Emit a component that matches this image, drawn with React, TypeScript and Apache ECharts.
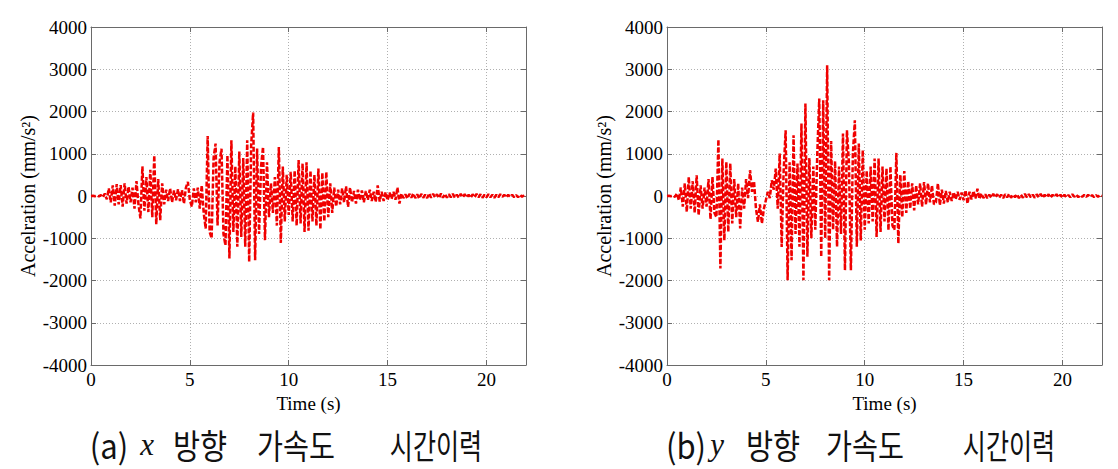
import React, { useEffect, useRef } from 'react';
import * as echarts from 'echarts';

// sampling step of the digitised records (s)
const DT = 0.1;
const T_MAX = 22;
const X_TICK_STEP = 5;
const Y_MIN = -4000;
const Y_MAX = 4000;
const Y_TICK_STEP = 1000;

const X_NAME = 'Time (s)';
const Y_NAME = 'Accelration (mm/s²)';

// x-direction acceleration (mm/s^2), one value per DT from t = 0
const ACC_X: number[] = [
  0, 5, -5, 10, -10, 20, -30, 60, -80, 180,
  -150, 250, -230, 280, -200, 260, -250, 300, -180, 220,
  -150, 200, -300, 350, -200, -530, 700, -350, 450, -380,
  620, -500, 960, -670, 400, -570, 300, -200, 150, -120,
  180, -150, 130, -100, 160, -120, 140, -180, 200, 335,
  -100, -250, 180, -150, 200, -300, 250, -400, -770, 1420,
  -850, -1000, 900, 1240, -700, 800, 1120, -900, -1165, 965,
  -1480, 1320, -850, 700, -1200, 1050, -970, 900, -1200, 1320,
  -1560, 1200, 1975, -1520, 1125, -900, 700, 1160, -1045, 800,
  -500, 300, -400, 450, -700, 1160, -1110, 700, -600, 500,
  -450, 570, -600, 600, -700, 850, -650, 770, -850, 800,
  -820, 600, -600, 500, -700, 650, -790, 550, -600, 570,
  -500, 300, -400, 200, -250, 150, -200, 180, -150, 230,
  -257, 200, -150, 120, -180, 150, -100, 130, -150, 120,
  -90, 150, -120, 100, -140, 250, -130, 100, -120, 90,
  -100, 80, -70, 100, -90, 200, -180, 60, -50, 40,
  -60, 50, -40, 60, -50, 40, -60, 50, -40, 30,
  -50, 60, -40, 50, -30, 40, -50, 60, -40, 50,
  -40, 40, -30, 50, -40, 30, -40, 50, -30, 40,
  -30, 30, -40, 40, -30, 50, -30, 40, -40, 30,
  -30, 40, -30, 30, -40, 30, -30, 40, -20, 30,
  -30, 30, -20, 30, -30, 20, -30, 30, -20, 20,
  0,
];

// y-direction acceleration (mm/s^2), one value per DT from t = 0
const ACC_Y: number[] = [
  0, 5, -5, 10, -20, 60, -100, 200, -250, 300,
  -376, 452, -300, 350, -400, 492, -457, 250, -300, 200,
  -250, 400, -550, 450, -400, -500, 1337, -1716, 887, -1050,
  808, -850, 770, -650, 400, -500, 300, -770, 200, -300,
  400, -50, 610, 100, 350, -300, -613, -200, -650, -300,
  -100, 100, -50, 374, 150, 650, -300, 1005, -1205, 600,
  1557, -1993, 800, -1520, 1440, -900, 768, -1200, 1716, -1993,
  2189, -1440, 900, -1000, 700, -800, 1000, 2307, -1441, 2268,
  -1000, 3095, -1993, 1300, -800, 825, -1200, 700, -900, 1479,
  -1756, 1557, 800, -1756, 1000, 1794, -1200, 1240, -1050, 1085,
  -800, 600, -650, 700, -600, 887, -967, 887, -850, 700,
  -600, 650, -810, 700, -700, -800, 1020, -1124, 500, -500,
  590, -400, 350, -300, 300, -340, 250, -200, 300, -250,
  330, -200, 300, -150, 250, -200, -150, 300, -220, 150,
  -180, 120, -150, 100, -120, 90, -80, 100, -90, 80,
  -100, 135, -180, 100, -80, 120, -60, 170, -70, 60,
  -50, 40, -50, 30, -40, 50, -30, 40, -40, 30,
  -50, 40, -30, 50, -40, 30, -30, 40, -50, 30,
  -40, 50, -30, 40, -30, 30, -40, 40, -30, 50,
  -40, 30, -30, 40, -40, 30, -20, 40, -30, 30,
  -40, 30, -30, 20, -30, 40, -20, 30, -30, 20,
  -20, 30, -20, 30, -20, 20, -30, 20, -20, 20,
  0,
];

// caption words: [left plot, right plot]
const CAPTION_A = ['(a)', 'x', '방향', '가속도', '시간이력'];
const CAPTION_B = ['(b)', 'y', '방향', '가속도', '시간이력'];

const SERIF = 'Liberation Serif';
const KR = 'Noto Sans CJK KR';
const AXIS_COLOR = '#6a6a6a';

function toPairs(vals: number[]) {
  return vals.map((v, i) => [Math.round(i * DT * 10) / 10, v]);
}

const tickRich = { t: { fontFamily: SERIF, fontSize: 19, color: '#000' } };

function axesFor(g: number) {
  const xBottom = {
    type: 'value', gridIndex: g, position: 'bottom', min: 0, max: T_MAX, interval: X_TICK_STEP,
    name: X_NAME, nameLocation: 'middle', nameGap: 20,
    nameTextStyle: { fontFamily: SERIF, fontSize: 19, color: '#000' },
    axisLine: { show: true, onZero: false, lineStyle: { color: AXIS_COLOR, width: 1 } },
    axisTick: { show: true, inside: true, length: 5, lineStyle: { color: AXIS_COLOR } },
    axisLabel: {
      show: true, margin: 5, fontFamily: SERIF, fontSize: 19, color: '#000', showMaxLabel: false,
      formatter: (v: number) => (v % X_TICK_STEP === 0 ? `{t|${v}}` : ''),
      rich: tickRich,
    },
    splitLine: { show: true, lineStyle: { color: '#b0b0b0', type: [1, 2], width: 1 } },
  };
  const xTop = {
    type: 'value', gridIndex: g, position: 'top', min: 0, max: T_MAX, interval: X_TICK_STEP,
    axisLine: { show: true, onZero: false, lineStyle: { color: AXIS_COLOR, width: 1 } },
    axisTick: { show: true, inside: true, length: 5, lineStyle: { color: AXIS_COLOR } },
    axisLabel: { show: false },
    splitLine: { show: false },
  };
  const yLeft = {
    type: 'value', gridIndex: g, position: 'left', min: Y_MIN, max: Y_MAX, interval: Y_TICK_STEP,
    name: Y_NAME, nameLocation: 'middle', nameGap: 53, nameRotate: 90,
    nameTextStyle: { fontFamily: SERIF, fontSize: 20, color: '#000' },
    axisLine: { show: true, onZero: false, lineStyle: { color: AXIS_COLOR, width: 1 } },
    axisTick: { show: true, inside: true, length: 5, lineStyle: { color: AXIS_COLOR } },
    axisLabel: {
      show: true, margin: 4, fontFamily: SERIF, fontSize: 19, color: '#000',
      formatter: (v: number) => `{t|${v}}`,
      rich: tickRich,
    },
    splitLine: { show: true, lineStyle: { color: '#b0b0b0', type: [1, 2], width: 1 } },
  };
  const yRight = {
    type: 'value', gridIndex: g, position: 'right', min: Y_MIN, max: Y_MAX, interval: Y_TICK_STEP,
    axisLine: { show: true, onZero: false, lineStyle: { color: AXIS_COLOR, width: 1 } },
    axisTick: { show: true, inside: true, length: 5, lineStyle: { color: AXIS_COLOR } },
    axisLabel: { show: false },
    splitLine: { show: false },
  };
  return { x: [xBottom, xTop], y: [yLeft, yRight] };
}

// per-word horizontal squeeze to imitate the narrower hangul of the original caption font
const WORD_SCALE = [1, 1, 0.95, 0.91, 0.81];

function captionGraphics(words: string[], centers: number[], y: number) {
  return words.map((w, i) => ({
    type: 'text',
    x: centers[i],
    y,
    scaleX: WORD_SCALE[i],
    scaleY: i === 1 ? 1 : 1.1,
    style: {
      text: w,
      fontFamily: i === 1 ? SERIF : KR,
      fontStyle: i === 1 ? 'italic' : 'normal',
      fontSize: 31,
      fill: '#111',
      align: 'center',
      verticalAlign: 'middle',
    },
  }));
}

export default function App() {
  const ref = useRef<HTMLDivElement>(null);

  useEffect(() => {
    if (!ref.current) return;
    const chart = echarts.init(ref.current, undefined, { renderer: 'svg' });
    const a = axesFor(0);
    const b = axesFor(1);
    const lineStyle = { color: '#f00000', width: 2.5, type: [5, 2] };
    chart.setOption({
      animation: false,
      backgroundColor: '#fff',
      textStyle: { fontFamily: SERIF },
      grid: [
        { left: 91, top: 27, width: 435, height: 338, containLabel: false },
        { left: 667, top: 27, width: 435, height: 338, containLabel: false },
      ],
      xAxis: [...a.x, ...b.x],
      yAxis: [...a.y, ...b.y],
      series: [
        {
          type: 'line', xAxisIndex: 0, yAxisIndex: 0, data: toPairs(ACC_X),
          symbol: 'none', showSymbol: false, silent: true, lineStyle,
        },
        {
          type: 'line', xAxisIndex: 2, yAxisIndex: 2, data: toPairs(ACC_Y),
          symbol: 'none', showSymbol: false, silent: true, lineStyle,
        },
      ],
      graphic: [
        ...captionGraphics(CAPTION_A, [109, 147, 200, 296, 436], 444),
        ...captionGraphics(CAPTION_B, [686, 717, 773, 865, 1009], 444),
      ],
    });
    return () => chart.dispose();
  }, []);

  return (
    <div
      ref={ref}
      style={{ position: 'fixed', left: 0, top: 0, width: 1118, height: 469, background: '#fff' }}
    />
  );
}
